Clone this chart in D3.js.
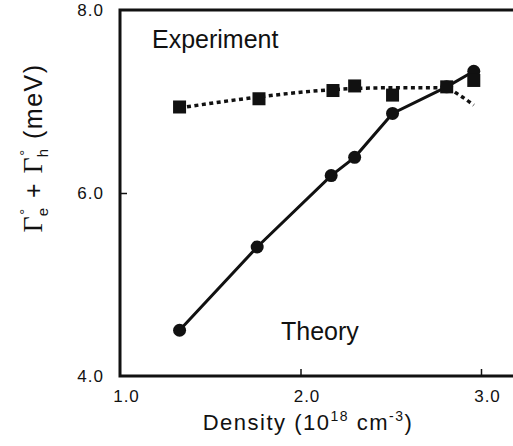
<!DOCTYPE html>
<html>
<head>
<meta charset="utf-8">
<script src="https://cdn.jsdelivr.net/npm/d3@7"></script>
<style>
  html, body { margin: 0; padding: 0; background: #fff; }
  svg { display: block; }
  text { font-family: "Liberation Sans", Arial, Helvetica, sans-serif; fill: #111; }
</style>
</head>
<body>
<svg id="chart" width="513" height="446"></svg>
<script>
// Theory: calculated broadening vs carrier density
const theoryDensity = [1.33, 1.76, 2.17, 2.30, 2.51, 2.81, 2.96];
const theoryWidth   = [4.50, 5.41, 6.19, 6.39, 6.87, 7.16, 7.33];

// Experiment: measured broadening
const expDensity = [1.33, 1.77, 2.18, 2.30, 2.51, 2.81, 2.96];
const expWidth   = [6.94, 7.03, 7.12, 7.17, 7.07, 7.16, 7.23];

// Guide-to-the-eye curve through the measurements
const fitDensity = [1.33, 1.77, 2.18, 2.50, 2.80, 2.88, 2.96];
const fitWidth   = [6.93, 7.05, 7.13, 7.15, 7.15, 7.07, 6.96];

const xTicks = [1.0, 2.0, 3.0];
const yTicks = [4.0, 6.0, 8.0];

const svg = d3.select("#chart");
const W = 513;

const x = d3.scaleLinear().domain([1, 3]).range([120, 481]);
const y = d3.scaleLinear().domain([4, 8]).range([376, 10]);

// Frame: left, bottom and top edges (right edge runs off the page)
svg.append("path")
  .attr("fill", "none").attr("stroke", "#111").attr("stroke-width", 3)
  .attr("stroke-linejoin", "miter")
  .attr("d", `M${W + 5},${y(8)} H${x(1)} V${y(4)} H${W + 5}`);

// Inward tick marks and labels
const xAxis = d3.axisBottom(x).tickValues(xTicks).tickSize(-7)
  .tickFormat(d3.format(".1f")).tickPadding(14);
const gx = svg.append("g").attr("transform", `translate(0,${y(4)})`).call(xAxis);
gx.select(".domain").remove();
gx.selectAll(".tick line").attr("stroke", "#111").attr("stroke-width", 1.5)
  .filter(d => d === 1).remove();
gx.selectAll(".tick text").attr("font-size", 17).attr("dx", 6).attr("letter-spacing", 1)
  .attr("font-family", "Liberation Sans, Arial, sans-serif").attr("fill", "#111");

const yAxis = d3.axisLeft(y).tickValues(yTicks).tickSize(-7)
  .tickFormat(d3.format(".1f")).tickPadding(16);
const gy = svg.append("g").attr("transform", `translate(${x(1)},0)`).call(yAxis);
gy.select(".domain").remove();
gy.selectAll(".tick line").attr("stroke", "#111").attr("stroke-width", 1.5)
  .filter(d => d !== 6).remove();
gy.selectAll(".tick text").attr("font-size", 17).attr("letter-spacing", 1)
  .attr("font-family", "Liberation Sans, Arial, sans-serif").attr("fill", "#111");

// Data lines
const theory = theoryDensity.map((d, i) => [d, theoryWidth[i]]);
const exper  = expDensity.map((d, i) => [d, expWidth[i]]);
const fit    = fitDensity.map((d, i) => [d, fitWidth[i]]);

svg.append("path")
  .datum(theory)
  .attr("fill", "none").attr("stroke", "#111").attr("stroke-width", 3)
  .attr("d", d3.line().x(d => x(d[0])).y(d => y(d[1])));

svg.append("path")
  .datum(fit)
  .attr("fill", "none").attr("stroke", "#111").attr("stroke-width", 3.5)
  .attr("stroke-dasharray", "4,3.5")
  .attr("d", d3.line().curve(d3.curveMonotoneX).x(d => x(d[0])).y(d => y(d[1])));

// Markers
svg.append("g").selectAll("circle").data(theory).join("circle")
  .attr("cx", d => x(d[0])).attr("cy", d => y(d[1])).attr("r", 6.5).attr("fill", "#111");

const s = 13;
svg.append("g").selectAll("rect").data(exper).join("rect")
  .attr("x", d => x(d[0]) - s / 2).attr("y", d => y(d[1]) - s / 2)
  .attr("width", s).attr("height", s).attr("fill", "#111");

// Curve labels
svg.append("text").attr("x", 152).attr("y", 48).attr("font-size", 25).text("Experiment");
svg.append("text").attr("x", 281).attr("y", 340).attr("font-size", 25).text("Theory");

// Axis titles
const xt = svg.append("text").attr("x", 308).attr("y", 430).attr("font-size", 22)
  .attr("letter-spacing", 1.5).attr("text-anchor", "middle");
xt.append("tspan").text("Density (10");
xt.append("tspan").attr("font-size", 14).attr("dy", -9).text("18");
xt.append("tspan").attr("dy", 9).text(" cm");
xt.append("tspan").attr("font-size", 14).attr("dy", -9).text("-3");
xt.append("tspan").attr("dy", 9).text(")");

const yt = svg.append("text")
  .attr("transform", "translate(42,148) rotate(-90)")
  .attr("font-size", 25).attr("text-anchor", "middle").attr("letter-spacing", 1.5);
const serif = "Liberation Serif, DejaVu Serif, serif";
yt.append("tspan").attr("font-family", serif).attr("font-size", 28).text("Γ");
yt.append("tspan").attr("font-size", 15).attr("dy", -12).text("°");
yt.append("tspan").attr("font-size", 15).attr("dx", -9).attr("dy", 18).text("e");
yt.append("tspan").attr("dy", -6).text(" + ");
yt.append("tspan").attr("font-family", serif).attr("font-size", 28).text("Γ");
yt.append("tspan").attr("font-size", 15).attr("dy", -12).text("°");
yt.append("tspan").attr("font-size", 15).attr("dx", -9).attr("dy", 18).text("h");
yt.append("tspan").attr("dy", -6).text(" (meV)");
</script>
</body>
</html>
